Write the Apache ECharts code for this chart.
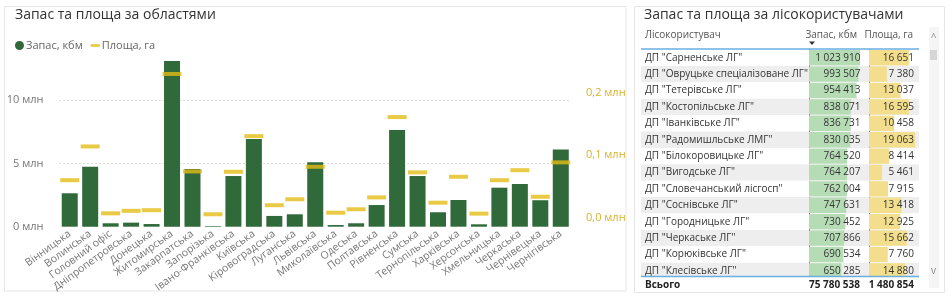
<!DOCTYPE html>
<html>
<head>
<meta charset="utf-8">
<script src="https://cdn.jsdelivr.net/npm/echarts@6/dist/echarts.min.js"></script>
<style>
  html, body { margin: 0; padding: 0; background: #fff; }
  #main { width: 949px; height: 299px; }
</style>
</head>
<body>
<div id="main"></div>
<script>
// області
const regions = ['Вінницька', 'Волинська', 'Головний офіс', 'Дніпропетровська', 'Донецька',
  'Житомирська', 'Закарпатська', 'Запорізька', 'Івано-Франківська', 'Київська',
  'Кіровоградська', 'Луганська', 'Львівська', 'Миколаївська', 'Одеська', 'Полтавська',
  'Рівненська', 'Сумська', 'Тернопільська', 'Харківська', 'Херсонська', 'Хмельницька',
  'Черкаська', 'Чернівецька', 'Чернігівська'];
// Запас, кбм
const stock = [2640000, 4740000, 270000, 320000, 210000, 13090000, 4560000, 50000, 4000000,
  6930000, 850000, 980000, 5090000, 130000, 270000, 1710000, 7640000, 4000000, 1140000,
  2110000, 190000, 3080000, 3370000, 2090000, 6090000];
// Площа, га
const area = [60000, 114000, 7000, 11000, 12000, 230000, 74000, 5500, 73500, 130500, 20000,
  29500, 81500, 8000, 13500, 32500, 161000, 72500, 24000, 65500, 6500, 60000, 76000, 33500, 88500];
const rightTicks = [0, 100000, 200000];

// лісокористувачі
const users = ['ДП "Сарненське ЛГ"', 'ДП "Овруцьке спеціалізоване ЛГ"', 'ДП "Тетерівське ЛГ"',
  'ДП "Костопільське ЛГ"', 'ДП "Іванківське ЛГ"', 'ДП "Радомишльське ЛМГ"',
  'ДП "Білокоровицьке ЛГ"', 'ДП "Вигодське ЛГ"', 'ДП "Словечанський лісгосп"',
  'ДП "Соснівське ЛГ"', 'ДП "Городницьке ЛГ"', 'ДП "Черкаське ЛГ"', 'ДП "Корюківське ЛГ"',
  'ДП "Клесівське ЛГ"'];
const userStock = [1023910, 993507, 954413, 838071, 836731, 830035, 764520, 764207, 762004,
  747631, 730452, 707866, 690534, 650285];
const userArea = [16651, 7380, 13037, 16595, 10458, 19063, 8414, 5461, 7915, 13418, 12925,
  15662, 7760, 14880];
const totalStock = 75780538;
const totalArea = 1480854;

const FONT = '"Segoe UI", "Open Sans", sans-serif';
const fmt = v => String(v).replace(/\B(?=(\d{3})+(?!\d))/g, ' ');

// таблиця: рядки
const rowTop = 49.5, rowH = 16.4;

let myChart = echarts.init(document.getElementById('main'));
let option = {
  animation: false,
  textStyle: { fontFamily: FONT },
  title: [
    { text: 'Запас та площа за областями', left: 10, top: 3,
      textStyle: { fontSize: 14, fontWeight: 'normal', color: '#333', fontFamily: FONT } },
    { text: 'Запас та площа за лісокористувачами', left: 639, top: 3,
      textStyle: { fontSize: 14, fontWeight: 'normal', color: '#333', fontFamily: FONT } }
  ],
  legend: {
    left: 10, top: 35, itemWidth: 9, itemHeight: 9, itemGap: 8,
    textStyle: { fontSize: 11, color: '#666', padding: [0, 0, 0, -3] },
    data: [
      { name: 'Запас, кбм', icon: 'circle' },
      { name: 'Площа, га', icon: 'path://M0,0h10v3h-10z' }
    ]
  },
  grid: [
    { left: 59.5, right: 378, top: 49.4, bottom: 72.3, outerBoundsMode: 'none' },
    { left: 641, width: 278, top: rowTop, height: rowH * users.length, outerBoundsMode: 'none' },
    { left: 809, width: 53, top: rowTop, height: rowH * users.length, outerBoundsMode: 'none' },
    { left: 869, width: 50, top: rowTop, height: rowH * users.length, outerBoundsMode: 'none' }
  ],
  xAxis: [
    { type: 'category', gridIndex: 0, data: regions,
      axisLine: { show: false }, axisTick: { show: false },
      axisLabel: { rotate: 36, margin: 6, fontSize: 10.5, color: '#777', interval: 0, hideOverlap: false } },
    { type: 'value', gridIndex: 1, show: false, min: 0, max: 1 },
    { type: 'value', gridIndex: 2, show: false, min: 0, max: 1064000 },
    { type: 'value', gridIndex: 3, show: false, min: 0, max: 20720 }
  ],
  yAxis: [
    { type: 'value', gridIndex: 0, min: 0, max: 14000000, interval: 5000000,
      axisLabel: { showMaxLabel: false, margin: 16, fontSize: 11, color: '#777',
        formatter: v => (v / 1000000) + ' млн' },
      splitLine: { showMaxLine: false, showMinLine: false,
        lineStyle: { type: [1, 3], color: '#bbb' } } },
    { type: 'value', gridIndex: 0, position: 'right', min: -14400, max: 269300,
      splitLine: { show: false },
      axisTick: { show: false },
      axisLabel: { customValues: rightTicks, margin: 15, fontSize: 11, color: '#d9b22e',
        formatter: v => (v / 1000000).toFixed(1).replace('.', ',') + ' млн' } },
    { type: 'category', gridIndex: 1, inverse: true, data: users,
      axisLine: { show: false }, axisTick: { show: false },
      axisLabel: { inside: true, margin: 4, fontSize: 10, color: '#333', align: 'left' },
      splitArea: { show: true, areaStyle: { color: ['#ffffff', '#eeeeee'] } } },
    { type: 'category', gridIndex: 2, inverse: true, data: users,
      axisLabel: { show: false }, axisTick: { show: false },
      axisLine: { show: true, lineStyle: { type: [2, 2], color: '#777', width: 1 } } },
    { type: 'category', gridIndex: 3, inverse: true, data: users,
      axisLabel: { show: false }, axisTick: { show: false },
      axisLine: { show: true, lineStyle: { type: [2, 2], color: '#777', width: 1 } } }
  ],
  series: [
    { name: 'Запас, кбм', type: 'bar', xAxisIndex: 0, yAxisIndex: 0, data: stock,
      barWidth: 16, itemStyle: { color: '#30693a' } },
    { name: 'Площа, га', type: 'scatter', xAxisIndex: 0, yAxisIndex: 1, data: area,
      symbol: 'rect', symbolSize: [19, 4], z: 5, itemStyle: { color: '#e3bd16' } },
    { type: 'bar', xAxisIndex: 2, yAxisIndex: 3, data: userStock, barCategoryGap: '6%',
      itemStyle: { color: '#b6dcb6' },
      label: { show: true, position: [51.5, '50%'], align: 'right', verticalAlign: 'middle',
        fontSize: 10, color: '#333', formatter: p => fmt(p.value) } },
    { type: 'bar', xAxisIndex: 3, yAxisIndex: 4, data: userArea, barCategoryGap: '6%',
      itemStyle: { color: '#f2de8c' },
      label: { show: true, position: [45, '50%'], align: 'right', verticalAlign: 'middle',
        fontSize: 10, color: '#333', formatter: p => fmt(p.value) } }
  ],
  graphic: [
    // рамки карток
    { type: 'rect', shape: { x: 4.5, y: 6.5, width: 621.5, height: 284.5 }, z: -10,
      style: { fill: '#fff', stroke: '#e6e6e6', lineWidth: 1 } },
    { type: 'rect', shape: { x: 634.5, y: 6.5, width: 310, height: 286 }, z: -10,
      style: { fill: '#fff', stroke: '#e6e6e6', lineWidth: 1 } },
    // заголовки таблиці
    { type: 'text', x: 645, y: 35, z: 10,
      style: { text: 'Лісокористувач', font: '10px ' + FONT, fill: '#555', verticalAlign: 'middle' } },
    { type: 'text', x: 857, y: 35, z: 10,
      style: { text: 'Запас, кбм', font: '10px ' + FONT, fill: '#555', align: 'right', verticalAlign: 'middle' } },
    { type: 'text', x: 913, y: 35, z: 10,
      style: { text: 'Площа, га', font: '10px ' + FONT, fill: '#555', align: 'right', verticalAlign: 'middle' } },
    { type: 'polygon', z: 10, shape: { points: [[809, 41.5], [815, 41.5], [812, 45]] },
      style: { fill: '#333' } },
    { type: 'line', z: 10, shape: { x1: 641, y1: 49, x2: 919, y2: 49 },
      style: { stroke: '#6aaee0', lineWidth: 1.5 } },
    // підсумок
    { type: 'rect', z: 9, shape: { x: 640, y: 276, width: 282, height: 16 }, style: { fill: '#fff' } },
    { type: 'line', z: 10, shape: { x1: 641, y1: 276.5, x2: 919, y2: 276.5 },
      style: { stroke: '#6aaee0', lineWidth: 1.5 } },
    { type: 'text', x: 645, y: 285, z: 10,
      style: { text: 'Всього', font: 'bold 10px ' + FONT, fill: '#222', verticalAlign: 'middle' } },
    { type: 'text', x: 860, y: 285, z: 10,
      style: { text: fmt(totalStock), font: 'bold 10px ' + FONT, fill: '#222', align: 'right', verticalAlign: 'middle' } },
    { type: 'text', x: 914, y: 285, z: 10,
      style: { text: fmt(totalArea), font: 'bold 10px ' + FONT, fill: '#222', align: 'right', verticalAlign: 'middle' } },
    // смуга прокрутки
    { type: 'rect', z: 8, shape: { x: 929, y: 27, width: 10, height: 261 }, style: { fill: '#f5f5f5' } },
    { type: 'rect', z: 8, shape: { x: 930, y: 50, width: 7, height: 10 }, style: { fill: '#d6d6d6' } },
    { type: 'text', x: 933.5, y: 38, z: 10,
      style: { text: '^', font: '10px ' + FONT, fill: '#888', align: 'center', verticalAlign: 'middle' } },
    { type: 'text', x: 933.5, y: 271, z: 10,
      style: { text: 'v', font: '10px ' + FONT, fill: '#888', align: 'center', verticalAlign: 'middle' } }
  ]
};
myChart.setOption(option);
window.addEventListener('resize', function () {
  myChart.resize();
});
</script>
</body>
</html>
